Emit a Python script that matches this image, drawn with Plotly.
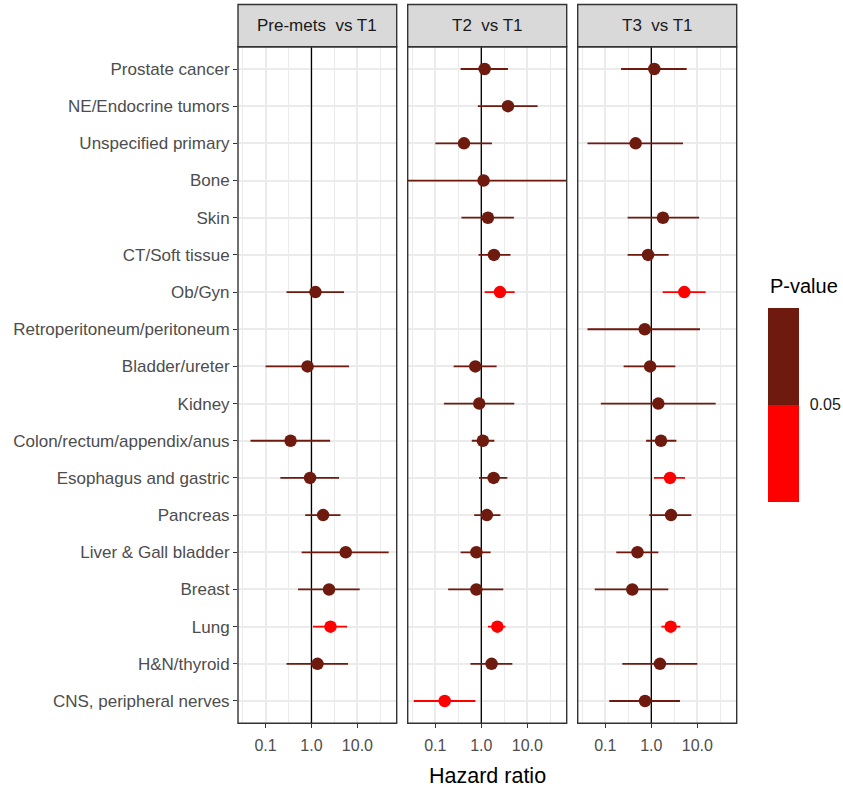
import plotly.graph_objects as go

# ---- data -------------------------------------------------------------
categories = [
    "Prostate cancer", "NE/Endocrine tumors", "Unspecified primary", "Bone",
    "Skin", "CT/Soft tissue", "Ob/Gyn", "Retroperitoneum/peritoneum",
    "Bladder/ureter", "Kidney", "Colon/rectum/appendix/anus",
    "Esophagus and gastric", "Pancreas", "Liver & Gall bladder", "Breast",
    "Lung", "H&N/thyroid", "CNS, peripheral nerves",
]

panel_titles = ["Pre-mets  vs T1", "T2  vs T1", "T3  vs T1"]

premets_hr = [None, None, None, None, None, None, 1.22, None, 0.82, None,
              0.35, 0.93, 1.79, 5.57, 2.41, 2.59, 1.35, None]
premets_lo = [None, None, None, None, None, None, 0.286, None, 0.10, None,
              0.047, 0.21, 0.73, 0.61, 0.51, 1.08, 0.286, None]
premets_hi = [None, None, None, None, None, None, 5.11, None, 6.57, None,
              2.54, 3.98, 4.27, 47.9, 11.2, 5.94, 6.25, None]
premets_sig = [0, 0, 0, 0, 0, 0, 0, 0, 0, 0, 0, 0, 0, 0, 0, 1, 0, 0]

t2_hr = [1.18, 3.79, 0.42, 1.12, 1.39, 1.88, 2.54, None, 0.74, 0.90,
         1.08, 1.85, 1.32, 0.78, 0.78, 2.23, 1.67, 0.16]
t2_lo = [0.355, 0.84, 0.10, 0.005, 0.37, 0.87, 1.18, None, 0.25, 0.154,
         0.62, 0.89, 0.70, 0.355, 0.19, 1.39, 0.58, 0.034]
t2_hi = [3.79, 16.7, 1.70, 500.0, 5.1, 4.3, 5.3, None, 2.15, 5.2,
         1.92, 3.67, 2.59, 1.59, 3.0, 3.32, 4.72, 0.74]
t2_sig = [0, 0, 0, 0, 0, 0, 1, 0, 0, 0, 0, 0, 0, 0, 0, 1, 0, 1]

t3_hr = [1.16, None, 0.456, None, 1.79, 0.85, 5.2, 0.72, 0.94, 1.42,
         1.62, 2.55, 2.68, 0.50, 0.386, 2.63, 1.54, 0.73]
t3_lo = [0.22, None, 0.041, None, 0.305, 0.305, 1.76, 0.041, 0.25, 0.08,
         0.77, 1.14, 0.90, 0.173, 0.059, 1.65, 0.234, 0.122]
t3_hi = [5.86, None, 4.88, None, 10.9, 2.38, 15.1, 11.4, 3.32, 25.0,
         3.5, 5.4, 7.4, 1.42, 2.34, 4.27, 10.0, 4.2]
t3_sig = [0, 0, 0, 0, 0, 0, 1, 0, 0, 0, 0, 1, 0, 0, 0, 1, 0, 0]

x_tick_vals = [0.1, 1, 10]
x_tick_text = ["0.1", "1.0", "10.0"]
x_minor_vals = [10 ** -1.5, 10 ** -0.5, 10 ** 0.5, 10 ** 1.5]
reference_hr = 1.0

# ---- styling ----------------------------------------------------------
W, H = 843, 793
DARK = "#6E1A0E"
RED = "#FF0000"
FONT = "Liberation Sans, Arial, sans-serif"
GRID = "#EBEBEB"
BORDER = "#333333"

panels = [
    (premets_hr, premets_lo, premets_hi, premets_sig),
    (t2_hr, t2_lo, t2_hi, t2_sig),
    (t3_hr, t3_lo, t3_hi, t3_sig),
]
panel_px = [(238.0, 396.7), (407.7, 566.7), (577.7, 736.7)]
top_px, bot_px = 46.7, 723.3
strip_top_px = 4.5
x_log_range = [-1.60, 1.855]

# discrete y scale: first category at the top
n_cat = len(categories)
y_pos = {c: n_cat - 1 - k for k, c in enumerate(categories)}
y_range = [-0.6, n_cat - 0.4]

fig = go.Figure()
shapes = []
annotations = []

for i, ((hr, lo, hi, sig), (x0, x1)) in enumerate(zip(panels, panel_px)):
    n = "" if i == 0 else str(i + 1)
    xa, ya = "x" + n, "y" + n

    # reference line at HR = 1, spanning the full panel height
    fig.add_trace(go.Scatter(
        x=[reference_hr, reference_hr], y=y_range, mode="lines",
        xaxis=xa, yaxis=ya, line=dict(color="black", width=1.3),
        showlegend=False, hoverinfo="skip"))

    # confidence interval segments, grouped by colour
    for flag, col in ((0, DARK), (1, RED)):
        xs, ys = [], []
        for c, h, l, u, s in zip(categories, hr, lo, hi, sig):
            if h is None or s != flag:
                continue
            xs += [l, u, None]
            ys += [y_pos[c], y_pos[c], None]
        if xs:
            fig.add_trace(go.Scatter(
                x=xs, y=ys, mode="lines", xaxis=xa, yaxis=ya,
                line=dict(color=col, width=1.8), showlegend=False,
                hoverinfo="skip"))

    # point estimates, coloured through the shared colour axis
    px_, py_, pc_, pt_ = [], [], [], []
    for c, h, s in zip(categories, hr, sig):
        if h is None:
            continue
        px_.append(h)
        py_.append(y_pos[c])
        pc_.append(0 if s else 1)
        pt_.append(c)
    fig.add_trace(go.Scatter(
        x=px_, y=py_, mode="markers", xaxis=xa, yaxis=ya, text=pt_,
        marker=dict(size=12.5, color=pc_, coloraxis="coloraxis"),
        showlegend=False))

    xaxis = dict(
        type="log", range=x_log_range,
        domain=[x0 / W, x1 / W], anchor=ya,
        tickmode="array", tickvals=x_tick_vals, ticktext=x_tick_text,
        ticks="outside", ticklen=4, tickwidth=1.3, tickcolor=BORDER,
        ticklabelstandoff=3,
        tickfont=dict(family=FONT, size=16, color="#4D4D4D"),
        showgrid=True, gridcolor=GRID, gridwidth=1.6,
        minor=dict(tickmode="array", tickvals=x_minor_vals, showgrid=True,
                   gridcolor=GRID, gridwidth=0.8, ticks=""),
        showline=False, zeroline=False,
    )
    yaxis = dict(
        range=y_range,
        domain=[1 - bot_px / H, 1 - top_px / H], anchor=xa,
        tickmode="array", tickvals=[y_pos[c] for c in categories],
        ticktext=categories,
        showgrid=True, gridcolor=GRID, gridwidth=1.6,
        showline=False, zeroline=False,
    )
    if i == 0:
        yaxis.update(ticks="outside", ticklen=4, tickwidth=1.3,
                     tickcolor=BORDER,
                     tickfont=dict(family=FONT, size=17, color="#4D4D4D"))
    else:
        yaxis.update(showticklabels=False, ticks="", matches="y")
        xaxis.update(matches="x")
    fig.layout["xaxis" + n] = xaxis
    fig.layout["yaxis" + n] = yaxis

    # panel border
    shapes.append(dict(
        type="rect", xref="paper", yref="paper",
        x0=x0 / W, x1=x1 / W, y0=1 - bot_px / H, y1=1 - top_px / H,
        line=dict(color=BORDER, width=1.4), fillcolor="rgba(0,0,0,0)"))
    # facet strip
    shapes.append(dict(
        type="rect", xref="paper", yref="paper",
        x0=x0 / W, x1=x1 / W, y0=1 - top_px / H, y1=1 - strip_top_px / H,
        line=dict(color=BORDER, width=1.4), fillcolor="#D9D9D9"))
    annotations.append(dict(
        text=panel_titles[i], xref="paper", yref="paper",
        x=(x0 + x1) / 2 / W, y=1 - (top_px + strip_top_px) / 2 / H,
        xanchor="center", yanchor="middle", showarrow=False,
        font=dict(family=FONT, size=17, color="#1A1A1A")))

annotations.append(dict(
    text="Hazard ratio", xref="paper", yref="paper",
    x=(panel_px[0][0] + panel_px[2][1]) / 2 / W, y=1 - 776 / H,
    xanchor="center", yanchor="middle", showarrow=False,
    font=dict(family=FONT, size=21.5, color="black")))
annotations.append(dict(
    text="P-value", xref="paper", yref="paper",
    x=768 / W, y=1 - 286 / H, xanchor="left", yanchor="middle",
    showarrow=False, font=dict(family=FONT, size=20, color="black")))

fig.update_layout(
    width=W, height=H,
    margin=dict(l=0, r=0, t=0, b=0),
    paper_bgcolor="white", plot_bgcolor="white",
    shapes=shapes, annotations=annotations,
    coloraxis=dict(
        cmin=0, cmax=1,
        colorscale=[[0, RED], [0.5, RED], [0.5, DARK], [1, DARK]],
        colorbar=dict(
            tickmode="array", tickvals=[0.5], ticktext=["0.05"],
            ticks="outside", ticklen=8, tickcolor="rgba(0,0,0,0)",
            tickfont=dict(family=FONT, size=16, color="#1A1A1A"),
            thickness=31, thicknessmode="pixels",
            len=194, lenmode="pixels",
            x=767.7 / W, xanchor="left", xpad=0,
            y=1 - 404.7 / H, yanchor="middle", ypad=0,
            outlinewidth=0,
        ),
    ),
)

fig.write_html("out.html")
